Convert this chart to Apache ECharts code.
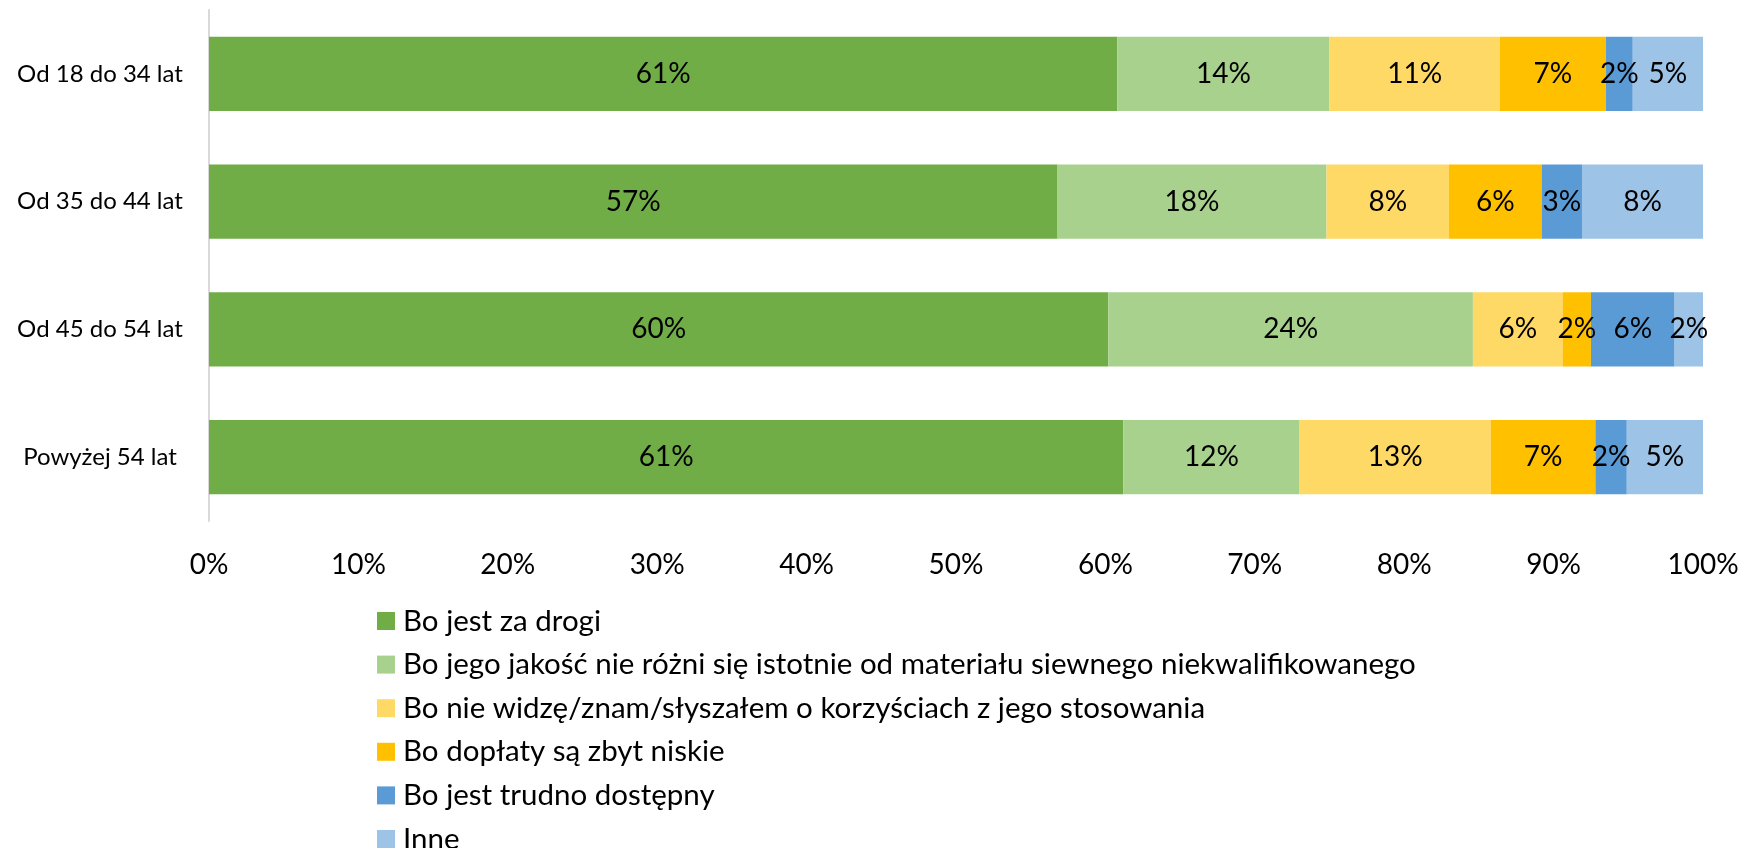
<!DOCTYPE html>
<html>
<head>
<meta charset="utf-8">
<script src="https://cdn.jsdelivr.net/npm/echarts@6/dist/echarts.min.js"></script>
<style>
  html, body { margin: 0; padding: 0; background: #fff; }
  #chart { width: 1743px; height: 848px; }
</style>
</head>
<body>
<div id="chart"></div>
<script>
// age groups (top to bottom)
const categories = ['Od 18 do 34 lat', 'Od 35 do 44 lat', 'Od 45 do 54 lat', 'Powyżej 54 lat']

const seriesNames = [
  'Bo jest za drogi',
  'Bo jego jakość nie różni się istotnie od materiału siewnego niekwalifikowanego',
  'Bo nie widzę/znam/słyszałem o korzyściach z jego stosowania',
  'Bo dopłaty są zbyt niskie',
  'Bo jest trudno dostępny',
  'Inne'
]

// shares in %, one array per reason
const zaDrogi = [60.8, 56.8, 60.2, 61.2]
const jakosc = [14.2, 18.0, 24.4, 11.8]
const korzysci = [11.4, 8.2, 6.0, 12.8]
const doplaty = [7.1, 6.2, 1.9, 7.0]
const trudnoDostepny = [1.8, 2.7, 5.6, 2.1]
const inne = [4.7, 8.1, 1.9, 5.1]

const colors = ['#70AD47', '#A9D18E', '#FFD966', '#FFC000', '#5B9BD5', '#9DC3E6']

const tickLabels = ['0%', '10%', '20%', '30%', '40%', '50%', '60%', '70%', '80%', '90%', '100%']

const fontFamily = 'Lato, "Open Sans", sans-serif'
const values = [zaDrogi, jakosc, korzysci, doplaty, trudnoDostepny, inne]

let chart = echarts.init(document.getElementById('chart'))
let option = {
  animation: false,
  color: colors,
  textStyle: { fontFamily: fontFamily },
  grid: {
    left: 209,
    right: 40,
    top: 10,
    bottom: 327
  },
  legend: {
    orient: 'vertical',
    left: 372,
    top: 601,
    height: 300,
    itemGap: 13.6,
    itemWidth: 18,
    itemHeight: 18,
    icon: 'rect',
    textStyle: { fontSize: 29.5, color: '#000', fontFamily: fontFamily, padding: [0, 0, 0, 3] },
    data: seriesNames
  },
  xAxis: {
    type: 'value',
    min: 0,
    max: 100,
    interval: 10,
    axisLine: { show: false },
    axisTick: { show: false },
    splitLine: { show: false },
    axisLabel: {
      fontSize: 28,
      color: '#000',
      margin: 30,
      formatter: (v) => tickLabels[Math.round(v / 10)]
    }
  },
  yAxis: {
    type: 'category',
    inverse: true,
    data: categories,
    axisLine: { show: true, lineStyle: { color: '#D9D9D9', width: 2 } },
    axisTick: { show: false },
    axisLabel: {
      fontSize: 24,
      color: '#000',
      align: 'center',
      margin: 109
    }
  },
  series: seriesNames.map((name, i) => ({
    name: name,
    type: 'bar',
    stack: 'total',
    barCategoryGap: '42%',
    data: values[i],
    label: {
      show: true,
      position: 'inside',
      color: '#000',
      fontSize: 28,
      fontFamily: fontFamily,
      formatter: (p) => Math.round(p.value) + '%'
    }
  }))
}
chart.setOption(option)
</script>
</body>
</html>
